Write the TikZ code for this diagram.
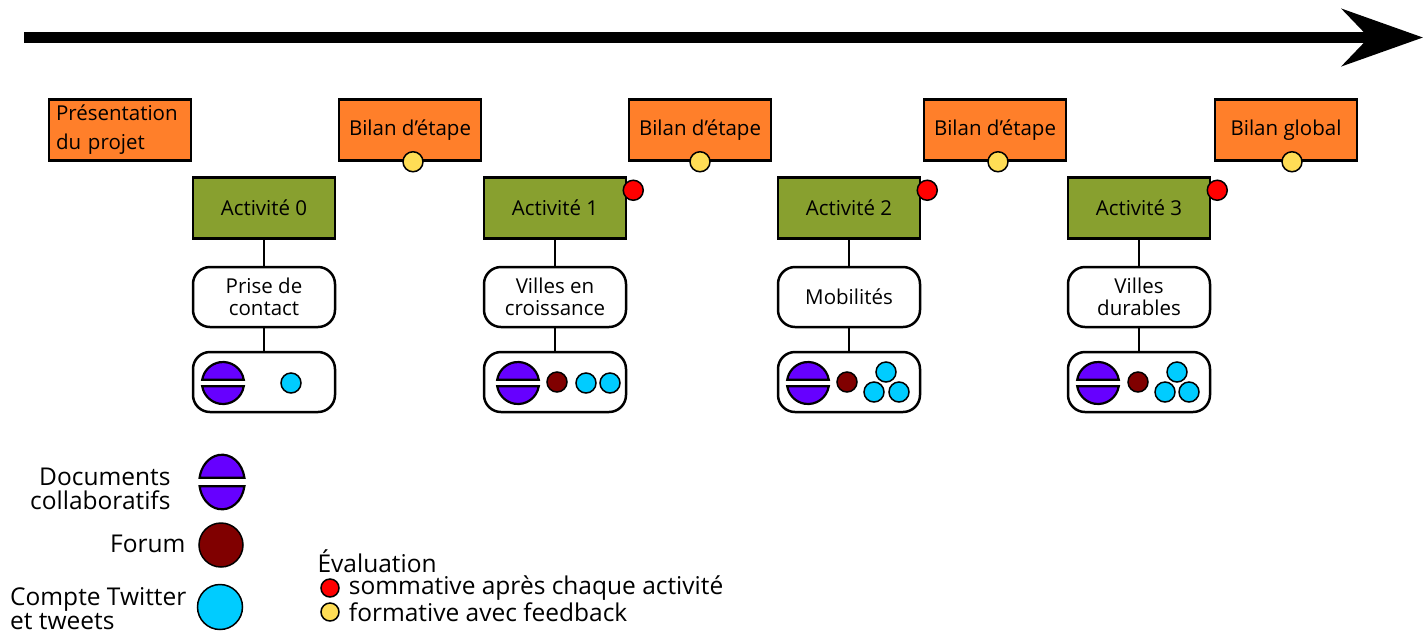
\documentclass[tikz,border=0pt]{standalone}
\usepackage{fontspec}
\setmainfont{Open Sans}
\usetikzlibrary{arrows.meta}
\definecolor{bilan}{HTML}{FF7F2A}
\definecolor{activ}{HTML}{88A02F}
\definecolor{docs}{HTML}{6600FF}
\definecolor{forum}{HTML}{800000}
\definecolor{tweet}{HTML}{00CCFF}
\definecolor{somm}{HTML}{FF0000}
\definecolor{form}{HTML}{FFDD55}

\begin{document}
\begin{tikzpicture}[x=1pt,y=-1pt,
  boxfont/.style={font=\fontsize{20.5}{21.5}\selectfont},
  legfont/.style={font=\fontsize{24.5}{24}\selectfont},
  bilanbox/.style={draw,line width=2.5pt,fill=bilan,minimum width=142pt,minimum height=61pt,boxfont},
  activbox/.style={bilanbox,fill=activ},
  themebox/.style={draw,line width=2.5pt,fill=white,rounded corners=17pt,minimum width=142pt,minimum height=60pt,align=center,boxfont},
  pastille/.style={circle,draw,line width=1.5pt,inner sep=0pt,minimum size=20pt},
  lien/.style={line width=2pt},
  docs/.pic={
    \filldraw[fill=docs,line width=2.2pt] (9:21) arc[start angle=9,end angle=171,radius=21] -- cycle;
    \filldraw[fill=docs,line width=2.2pt] (-9:21) arc[start angle=-9,end angle=-171,radius=21] -- cycle;},
  forum/.pic={\filldraw[fill=forum,line width=1.5pt] (0,0) circle[radius=10];},
  tweet/.pic={\filldraw[fill=tweet,line width=1.5pt] (0,0) circle[radius=10];}
  ]
\useasboundingbox (0,0) rectangle (1424,633);

\draw[line width=11pt,-{Stealth[length=81pt,width=57pt,inset=27pt]}] (24,37.5) -- (1423,37.5);

% bilans
\node[bilanbox,align=left,text width=128pt,font=\fontsize{20.5}{29}\selectfont] (presentation) at (120,130) {Présentation\\du projet};
\node[bilanbox] (bilan1) at (410,130) {Bilan d'étape};
\node[bilanbox] (bilan2) at (700,130) {Bilan d'étape};
\node[bilanbox] (bilan3) at (995,130) {Bilan d'étape};
\node[bilanbox] (global) at (1286,130) {Bilan global};
\node[pastille,fill=form] (form1) at ([xshift=3pt]bilan1.south) {};
\node[pastille,fill=form] (form2) at (bilan2.south) {};
\node[pastille,fill=form] (form3) at ([xshift=3pt]bilan3.south) {};
\node[pastille,fill=form] (form4) at ([xshift=6pt]global.south) {};

% activites
\node[activbox] (act0) at (264,208) {Activité 0};
\node[activbox] (act1) at (555,208) {Activité 1};
\node[activbox] (act2) at (849,208) {Activité 2};
\node[activbox] (act3) at (1139,208) {Activité 3};
\node[pastille,fill=somm] (somm1) at ([xshift=6pt,yshift=-14pt]act1.north east) {};
\node[pastille,fill=somm] (somm2) at ([xshift=6pt,yshift=-14pt]act2.north east) {};
\node[pastille,fill=somm] (somm3) at ([xshift=6pt,yshift=-14pt]act3.north east) {};

\node[themebox] (theme0) at (264,297) {Prise de\\contact};
\node[themebox] (theme1) at (555,297) {Villes en\\croissance};
\node[themebox] (theme2) at (849,297) {Mobilités};
\node[themebox] (theme3) at (1139,297) {Villes\\durables};

\node[themebox] (outil0) at (264,382) {};
\node[themebox] (outil1) at (555,382) {};
\node[themebox] (outil2) at (849,382) {};
\node[themebox] (outil3) at (1139,382) {};

\foreach \i in {0,1,2,3} {
  \draw[lien] (act\i) -- (theme\i);
  \draw[lien] (theme\i) -- (outil\i);
}

% outils
\pic at (223,383) {docs};
\pic at (291,383) {tweet};
\pic at (518,383) {docs};
\pic at (557,382) {forum};
\pic at (586,383) {tweet};
\pic at (610,383) {tweet};
\pic at (808,383) {docs};
\pic at (847,382) {forum};
\pic at (886,372) {tweet};
\pic at (874,392) {tweet};
\pic at (899,392) {tweet};
\pic at (1098,383) {docs};
\pic at (1138,382) {forum};
\pic at (1177,372) {tweet};
\pic at (1165,392) {tweet};
\pic at (1189,392) {tweet};

% legende
\node[legfont,align=right,anchor=east] (ldocs) at (174,489) {Documents\\collaboratifs};
\pic[xscale=1.08,yscale=1.3] at (222,482) {docs};
\node[legfont,anchor=east] (lforum) at (189,544) {Forum};
\pic[scale=2.2] at (221,545) {forum};
\node[legfont,align=left,anchor=west,inner sep=1pt] (ltweet) at (9,609) {Compte Twitter\\et tweets};
\pic[scale=2.25] at (220,607) {tweet};

\node[legfont,anchor=west] (eval) at (314,561) {Évaluation};
\node[pastille,fill=somm,minimum size=18pt] (lsomm) at (330,588) {};
\node[legfont,anchor=west,inner sep=3pt] (tsomm) at ([xshift=6pt]lsomm.east) {sommative après chaque activité};
\node[pastille,fill=form,minimum size=18pt] (lform) at (330,612) {};
\node[legfont,anchor=west,inner sep=3pt] (tform) at ([xshift=6pt]lform.east) {formative avec feedback};
\end{tikzpicture}
\end{document}
